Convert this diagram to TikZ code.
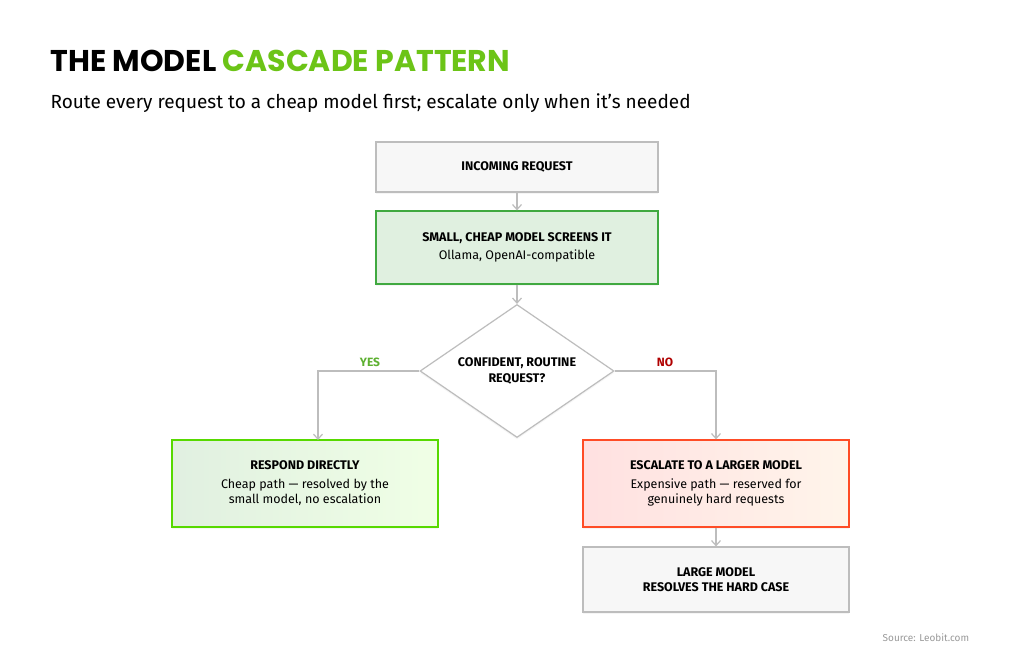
\documentclass[tikz,border=0pt]{standalone}
\usepackage{fontspec}
\setmainfont{Fira Sans}
\newfontfamily\heavyfont{Poppins}
\usetikzlibrary{shapes.geometric,shadows,arrows.meta}
\definecolor{linegray}{HTML}{BDBDBD}
\definecolor{titlegreen}{HTML}{6CC417}
\definecolor{yesgreen}{HTML}{5DB030}
\definecolor{nored}{HTML}{B00000}

\begin{document}
\begin{tikzpicture}[x=1pt,y=-1pt,->,>={Straight Barb[length=5pt,width=9pt]},draw=linegray,line width=1.2pt]
            \tikzstyle{every node}=[font=\fontsize{12.5}{15.5}\selectfont]
            \tikzstyle{box}=[rectangle,draw=linegray,align=center,inner sep=0pt,drop shadow={opacity=0.08,shadow xshift=0pt,shadow yshift=-2pt}]
            \tikzstyle{plain box}=[box,fill=white!97!black]
            \tikzstyle{decision}=[diamond,draw=linegray,fill=white,aspect=1.46,inner sep=0pt,minimum width=194pt,minimum height=133pt,align=center,drop shadow={opacity=0.08,shadow xshift=0pt,shadow yshift=-2pt}]
            \tikzstyle{branch}=[font=\fontsize{12}{14}\selectfont\bfseries]

            \useasboundingbox[fill=white] (0,0) rectangle (1024,664);

            % Title
            \node[anchor=base west,inner sep=0pt,font=\heavyfont\fontsize{30}{34}\selectfont\bfseries] (title) at (50,71)
                {THE MODEL \textcolor{titlegreen}{CASCADE PATTERN}};
            \node[anchor=base west,inner sep=0pt,font=\fontsize{19}{22}\selectfont] (subtitle) at (50,108)
                {Route every request to a cheap model first; escalate only when it's needed};

            % Boxes
            \node[plain box,minimum width=282pt,minimum height=50pt] (IN) at (517,167)
                {\textbf{INCOMING REQUEST}};
            \node[box,fill=green!50!black!12!white,draw=green!55!black!75,minimum width=282pt,minimum height=73pt] (SM) at (517,247.5)
                {\textbf{SMALL, CHEAP MODEL SCREENS IT}\\[3pt]Ollama, OpenAI-compatible};
            \node[decision] (DEC) at (517,371) {\textbf{CONFIDENT, ROUTINE}\\\textbf{REQUEST?}};
            \node[box,left color=green!50!black!12!white,right color=yellow!40!green!10!white,draw=green!60!yellow!85!black,minimum width=266pt,minimum height=87pt] (YES) at (305,483.5)
                {\textbf{RESPOND DIRECTLY}\\[3pt]Cheap path --- resolved by the\\small model, no escalation};
            \node[box,left color=red!12!white,right color=orange!8!white,draw=red!65!orange!85,minimum width=266pt,minimum height=87pt] (ESC) at (716,483.5)
                {\textbf{ESCALATE TO A LARGER MODEL}\\[3pt]Expensive path --- reserved for\\genuinely hard requests};
            \node[plain box,minimum width=266pt,minimum height=65pt] (LRG) at (716,579.5)
                {\textbf{LARGE MODEL}\\\textbf{RESOLVES THE HARD CASE}};
            \coordinate (YESIN) at (318,440);

            \node[anchor=base east,text=black!40,font=\fontsize{10}{12}\selectfont] (src) at (973,641) {Source: Leobit.com};

            % Connectors
            \draw (IN) -- (SM);
            \draw (SM) -- (DEC);
            \draw (DEC.west) -| (YESIN);
            \draw (DEC.east) -| (ESC.north);
            \draw (ESC) -- (LRG);

            % Branch labels
            \node[branch,text=yesgreen] (yeslbl) at (370,362) {YES};
            \node[branch,text=nored] (nolbl) at (665,362) {NO};
\end{tikzpicture}
\end{document}
